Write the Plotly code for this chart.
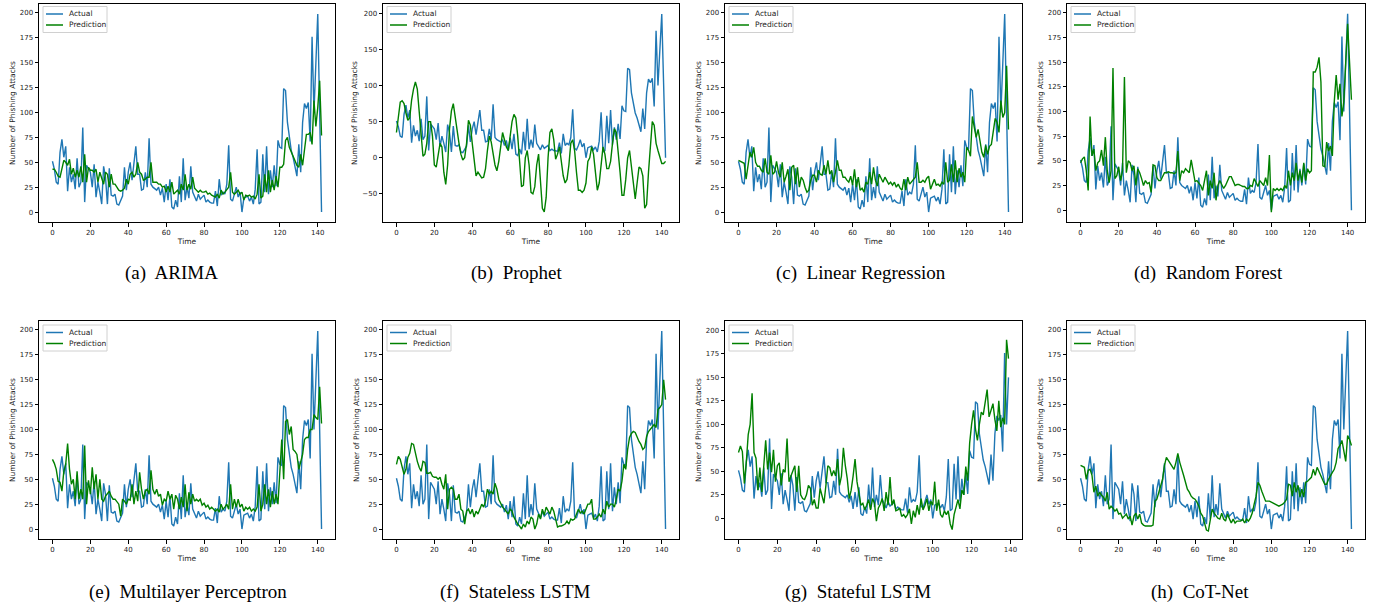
import plotly.graph_objects as go

W, H = 1376, 605

time_idx = list(range(143))

actual = [
    51, 43, 30, 28, 60, 73, 55, 66, 21, 45,
    30, 38, 23, 54, 25, 30, 85, 10, 47, 44,
    40, 25, 48, 15, 30, 20, 8, 46, 35, 8,
    44, 17, 16, 18, 8, 7, 12, 16, 45, 22,
    40, 50, 32, 47, 66, 38, 38, 22, 23, 40,
    25, 74, 28, 25, 23, 22, 25, 17, 24, 10,
    28, 12, 33, 5, 3, 12, 5, 36, 10, 54,
    12, 25, 14, 46, 20, 15, 11, 18, 13, 15,
    17, 10, 12, 10, 9, 9, 21, 6, 33, 17,
    20, 18, 28, 67, 13, 11, 17, 25, 15, 20,
    0, 14, 15, 16, 11, 15, 8, 23, 63, 8,
    10, 58, 20, 66, 18, 42, 25, 47, 26, 72,
    65, 64, 124, 122, 90, 75, 62, 55, 46, 36,
    68, 40, 90, 109, 104, 110, 71, 176, 100, 150,
    199, 100, 0,
]

pred_arima = [
    43, 43, 40, 36, 35, 45, 52, 50, 47, 53,
    38, 44, 35, 42, 35, 46, 30, 58, 30, 45,
    42, 42, 40, 43, 30, 40, 33, 28, 40, 38,
    25, 38, 28, 28, 25, 22, 21, 22, 24, 33,
    28, 38, 40, 35, 38, 50, 40, 38, 32, 33,
    35, 35, 50, 30, 30, 30, 28, 28, 25, 26,
    20, 26, 20, 30, 18, 20, 22, 18, 28, 22,
    38, 22, 28, 23, 35, 24, 22, 20, 22, 20,
    20, 21, 18, 19, 17, 16, 15, 18, 14, 22,
    18, 20, 22, 25, 40, 20, 18, 20, 22, 18,
    20, 12, 17, 16, 17, 15, 16, 13, 18, 38,
    14, 16, 38, 20, 42, 20, 32, 22, 36, 25,
    45, 45, 48, 72, 75, 65, 60, 56, 52, 47,
    45, 58, 47, 63, 78, 78, 80, 68, 112, 86,
    105, 132, 77,
]

pred_prophet = [
    35, 55, 77, 79, 75, 62, 52, 55, 80, 95,
    105, 95, 60, 25, 2, 5, 20, 50, 50, 30,
    -10, -13, 5, 20, 15, -20, -37, -10, 40, 65,
    75, 55, 35, 20, 5, -3, 0, 20, 52, 45,
    20, -5, -25, -20, -25, -28, -27, -15, 10, 30,
    22, 5, -10, -18, -5, 15, 35, 25, 15, 10,
    30, 50, 60, 55, 30, -10, -40, -38, 0, 10,
    -10, -48, -50, -40, -10, 5, -40, -70, -75, -55,
    0, 35, 40, 25, -2, 5, 15, -5, -25, -35,
    -30, -10, 20, 25, 10, -20, -45, -45, -48, -45,
    -35, -5, 0, 15, 5, -20, -45, -35, -10, 15,
    5, -15, -15, -5, 20, 40, 35, 10, -20, -52,
    -52, -30, 0, 10, -15, -40, -57, -35, -13, -15,
    -25, -70, -65, -20, 20, 50, 45, 20, 10, 0,
    -8, -8, -5,
]

pred_linreg = [
    52, 51, 50, 49, 33, 45, 60, 55, 65, 50,
    46, 46, 42, 40, 54, 40, 38, 57, 38, 40,
    51, 40, 35, 50, 30, 36, 43, 22, 45, 47,
    28, 45, 25, 35, 32, 25, 20, 22, 32, 37,
    37, 30, 42, 38, 37, 47, 38, 52, 38, 42,
    30, 40, 52, 42, 42, 35, 35, 32, 30, 36,
    27, 43, 25, 35, 22, 24, 20, 30, 28, 40,
    28, 45, 32, 26, 38, 34, 30, 35, 32, 28,
    30, 27, 30, 25, 28, 24, 22, 33, 22, 35,
    28, 30, 32, 35, 50, 30, 30, 32, 30, 34,
    36, 23, 28, 33, 27, 28, 26, 30, 28, 50,
    30, 32, 48, 30, 52, 30, 44, 35, 40, 30,
    65, 62, 56, 96, 85, 75, 83, 70, 60, 55,
    67, 58, 66, 68, 80, 94, 90, 80, 112, 95,
    100, 147, 83,
]

pred_rf = [
    48, 52, 54, 40, 20, 95, 55, 62, 40, 48,
    50, 61, 45, 74, 40, 28, 40, 144, 32, 35,
    44, 30, 40, 135, 38, 50, 48, 40, 45, 25,
    42, 38, 32, 25, 30, 27, 28, 18, 46, 45,
    33, 30, 30, 35, 38, 38, 39, 38, 38, 37,
    38, 60, 30, 40, 38, 42, 40, 38, 51, 38,
    29, 30, 28, 25, 20, 30, 40, 15, 30, 22,
    38, 10, 25, 30, 25, 22, 25, 30, 34, 34,
    30, 25, 26, 26, 25, 24, 24, 22, 22, 25,
    24, 32, 28, 24, 30, 28, 25, 33, 25, 56,
    -2, 22, 20, 22, 20, 22, 20, 25, 22, 40,
    25, 38, 30, 48, 30, 40, 28, 48, 30, 42,
    38, 40, 140, 140, 145, 155, 130, 45, 44, 69,
    60, 65, 55, 110, 137, 112, 128, 95, 110, 150,
    189, 150, 112,
]

pred_mlp = [
    70, 66, 60, 48, 47, 38, 58, 65, 86, 60,
    45, 50, 30, 58, 30, 40, 30, 84, 25, 49,
    35, 62, 40, 55, 30, 50, 30, 28, 33, 35,
    38, 33, 30, 30, 27, 25, 13, 30, 28, 25,
    30, 29, 45, 25, 38, 28, 57, 40, 30, 38,
    40, 35, 59, 40, 35, 40, 33, 35, 24, 30,
    28, 38, 30, 35, 20, 34, 30, 20, 32, 22,
    45, 18, 37, 25, 35, 28, 30, 28, 30, 24,
    26, 22, 24, 20, 22, 20, 18, 20, 17, 25,
    20, 22, 25, 20, 45, 20, 30, 22, 30, 22,
    25, 18, 22, 20, 22, 18, 20, 18, 22, 45,
    18, 25, 45, 25, 40, 22, 38, 25, 35, 25,
    60, 90, 50, 108, 110, 95, 103, 80, 78, 75,
    60, 68, 75, 90, 92, 92, 100, 100, 115, 112,
    110, 143, 106,
]

pred_stateless = [
    65, 73, 70, 62, 55, 60, 72, 76, 86, 85,
    75, 68, 62, 58, 68, 67, 56, 56, 57, 53,
    52, 52, 50, 52, 45, 40, 55, 20, 40, 42,
    40, 30, 30, 35, 20, 18, 5, 18, 20, 15,
    20, 12, 18, 15, 20, 25, 22, 28, 40, 35,
    38, 35, 46, 40, 30, 25, 22, 20, 18, 15,
    20, 18, 12, 8, 5, 3, 0, 5, 2, 8,
    5, 12, 10, 0, 5, 15, 10, 20, 14, 22,
    18, 15, 22, 18, 10, 2, 3, 3, 4, 5,
    8, 5, 10, 9, 10, 15, 20, 16, 18, 15,
    20, 25, 25, 30, 10, 10, 12, 15, 12, 20,
    15, 28, 22, 25, 25, 22, 30, 40, 38, 48,
    65, 60, 80, 92, 96, 98, 97, 92, 88, 85,
    80, 82, 93, 98, 100, 103, 105, 102, 120, 122,
    125, 150, 130,
]

# Stateful LSTM panel is evaluated on 140 steps (0..139)
time_idx_stateful = list(range(140))
actual_stateful = [
    51, 43, 30, 28, 60, 73, 55, 66, 21, 45,
    30, 38, 23, 54, 25, 30, 85, 10, 47, 44,
    40, 25, 48, 15, 30, 20, 8, 46, 35, 8,
    44, 17, 16, 18, 8, 7, 12, 16, 45, 22,
    40, 50, 32, 47, 66, 38, 38, 22, 23, 40,
    25, 74, 28, 25, 23, 22, 25, 17, 24, 10,
    28, 12, 33, 5, 3, 12, 5, 36, 10, 54,
    12, 25, 14, 46, 20, 15, 11, 18, 13, 15,
    17, 10, 12, 10, 9, 9, 21, 6, 33, 17,
    20, 18, 28, 67, 13, 11, 17, 25, 15, 20,
    0, 14, 15, 16, 11, 15, 8, 23, 63, 8,
    10, 58, 20, 66, 18, 42, 25, 47, 26, 72,
    65, 64, 124, 122, 90, 75, 62, 55, 46, 36,
    68, 40, 90, 109, 104, 110, 71, 176, 100, 150,
]
pred_stateful = [
    70, 77, 71, 37, 59, 89, 100, 133, 70, 64,
    30, 54, 28, 55, 83, 52, 70, 49, 73, 39,
    56, 59, 35, 52, 49, 85, 39, 45, 50, 56,
    28, 56, 25, 21, 20, 25, 35, 32, 14, 20,
    11, 11, 32, 25, 16, 35, 56, 54, 45, 51,
    45, 63, 35, 45, 75, 56, 42, 21, 30, 45,
    63, 39, 25, 14, 16, 9, 14, 20, 9, 21,
    16, -3, 11, 15, 21, 8, 28, 14, 44, 14,
    20, 8, 9, 11, 2, 4, 1, 4, 10, -6,
    8, 1, 14, 4, 21, 9, 14, 21, 8, 18,
    14, 39, 8, 20, 4, 1, 8, 4, 8, -6,
    -12, 4, 12, 20, 10, 30, 25, 55, 40, 80,
    100, 115, 95, 83, 100, 113, 110, 125, 137, 108,
    115, 122, 105, 93, 125, 97, 107, 100, 190, 170,
]

pred_cotnet = [
    64, 63, 62, 50, 59, 60, 54, 37, 43, 33,
    37, 34, 32, 28, 37, 20, 23, 21, 18, 20,
    15, 16, 11, 13, 15, 10, 13, 4, 13, 16,
    10, 15, 6, 4, 3, 3, 3, 3, 4, 28,
    30, 37, 44, 50, 64, 72, 69, 66, 64, 60,
    67, 76, 67, 59, 54, 47, 40, 37, 33, 31,
    30, 27, 23, 16, 13, 6, -1, -2, 10, 20,
    16, 13, 11, 10, 16, 10, 8, 15, 10, 6,
    10, 6, 8, 8, 8, 10, 6, 10, 8, 11,
    16, 25, 33, 47, 44, 38, 33, 28, 28, 28,
    27, 26, 25, 24, 23, 24, 25, 27, 30, 45,
    44, 33, 47, 37, 44, 32, 40, 32, 47, 48,
    50, 52, 60, 54, 62, 57, 54, 49, 45, 45,
    50, 54, 57, 60, 67, 81, 84, 89, 80, 68,
    94, 90, 84,
]

captions = ["(a)  ARIMA", "(b)  Prophet", "(c)  Linear Regression", "(d)  Random Forest",
            "(e)  Multilayer Perceptron", "(f)  Stateless LSTM", "(g)  Stateful LSTM", "(h)  CoT-Net"]
legend_names = ["Actual", "Prediction"]

x_ticks = [0, 20, 40, 60, 80, 100, 120, 140]
y_ticks_std = [0, 25, 50, 75, 100, 125, 150, 175, 200]
y_ticks_prophet = [-50, 0, 50, 100, 150, 200]

panels = [
    (time_idx, actual, pred_arima),
    (time_idx, actual, pred_prophet),
    (time_idx, actual, pred_linreg),
    (time_idx, actual, pred_rf),
    (time_idx, actual, pred_mlp),
    (time_idx, actual, pred_stateless),
    (time_idx_stateful, actual_stateful, pred_stateful),
    (time_idx, actual, pred_cotnet),
]
for t, a, p in panels:
    assert len(t) == len(a) == len(p), (len(t), len(a), len(p))

# layout geometry (window pixels)
col_px = [(39, 335), (383, 679), (725, 1022), (1067, 1365)]
row_px = [(4, 222), (321, 539)]
cap_x = [171, 516, 861, 1208, 188, 515, 858, 1200]
cap_y = [273, 592]

BLUE = "#1f77b4"
GREEN = "#008000"
colors = [BLUE, GREEN]


def px(xp):
    return xp / W


def py(yp):
    return 1 - yp / H


fig = go.Figure()
layout = dict(
    width=W, height=H, margin=dict(l=0, r=0, t=0, b=0, autoexpand=False),
    paper_bgcolor="white", plot_bgcolor="white", showlegend=False,
    font=dict(family="DejaVu Sans", size=7, color="#222"),
    annotations=[], shapes=[],
)

for i, (t, a, p) in enumerate(panels):
    r, c = divmod(i, 4)
    n = i + 1
    xa = "x" if n == 1 else f"x{n}"
    ya = "y" if n == 1 else f"y{n}"
    fig.add_trace(go.Scatter(x=t, y=a, mode="lines", name=legend_names[0],
                             line=dict(color=BLUE, width=1.4), xaxis=xa, yaxis=ya))
    fig.add_trace(go.Scatter(x=t, y=p, mode="lines", name=legend_names[1],
                             line=dict(color=GREEN, width=1.4), xaxis=xa, yaxis=ya))
    x0, x1 = col_px[c]
    y0, y1 = row_px[r]
    xd = [px(x0), px(x1)]
    yd = [py(y1), py(y0)]
    n_last = t[-1]
    xr = [-0.05 * n_last, n_last * 1.05]
    if i == 1:
        yr = [-89, 213]
        yt = y_ticks_prophet
    elif i == 3:
        yr = [-12, 209]
        yt = y_ticks_std
    elif i == 6:
        yr = [-22, 210]
        yt = y_ticks_std
    else:
        yr = [-10, 209]
        yt = y_ticks_std
    axis_common = dict(showline=True, linecolor="black", linewidth=1, mirror=True,
                       ticks="outside", ticklen=3.5, tickwidth=0.8, tickcolor="black",
                       showgrid=False, zeroline=False, automargin=False,
                       tickfont=dict(size=7, color="#222"))
    layout["xaxis" if n == 1 else f"xaxis{n}"] = dict(
        domain=xd, range=xr, anchor=ya, tickvals=x_ticks,
        title=dict(text="Time", font=dict(size=7.5, color="#222"), standoff=2), **axis_common)
    layout["yaxis" if n == 1 else f"yaxis{n}"] = dict(
        domain=yd, range=yr, anchor=xa, tickvals=yt,
        ticktext=[("\u2212" + str(-v)) if v < 0 else str(v) for v in yt],
        title=dict(text="Number of Phishing Attacks", font=dict(size=7.5, color="#222"), standoff=3),
        **axis_common)

    # legend box (matplotlib style, upper left)
    lx0, ly0 = x0 + 4, y0 + (2.5 if r == 0 else 4)
    lx1, ly1 = lx0 + 64, ly0 + 26
    layout["shapes"].append(dict(type="rect", xref="paper", yref="paper",
                                 x0=px(lx0), x1=px(lx1), y0=py(ly1), y1=py(ly0),
                                 line=dict(color="#d0d0d0", width=1),
                                 fillcolor="rgba(255,255,255,0.85)", layer="above"))
    for k in range(2):
        yy = ly0 + 7.5 + k * 11
        layout["shapes"].append(dict(type="line", xref="paper", yref="paper",
                                     x0=px(lx0 + 3), x1=px(lx0 + 20), y0=py(yy), y1=py(yy),
                                     line=dict(color=colors[k], width=1.5), layer="above"))
        layout["annotations"].append(dict(
            text=legend_names[k], x=px(lx0 + 24), y=py(yy), xref="paper", yref="paper",
            xanchor="left", yanchor="middle", showarrow=False,
            font=dict(size=7.5, color="#222")))

    layout["annotations"].append(dict(
        text=captions[i], x=px(cap_x[i]), y=py(cap_y[r]), xref="paper", yref="paper",
        xanchor="center", yanchor="middle", showarrow=False,
        font=dict(family="Liberation Serif", size=19, color="black")))

fig.update_layout(**layout)
fig.write_html("out.html", config={"displayModeBar": False},
               post_script="document.body.style.margin='0';document.body.style.overflow='hidden';")
